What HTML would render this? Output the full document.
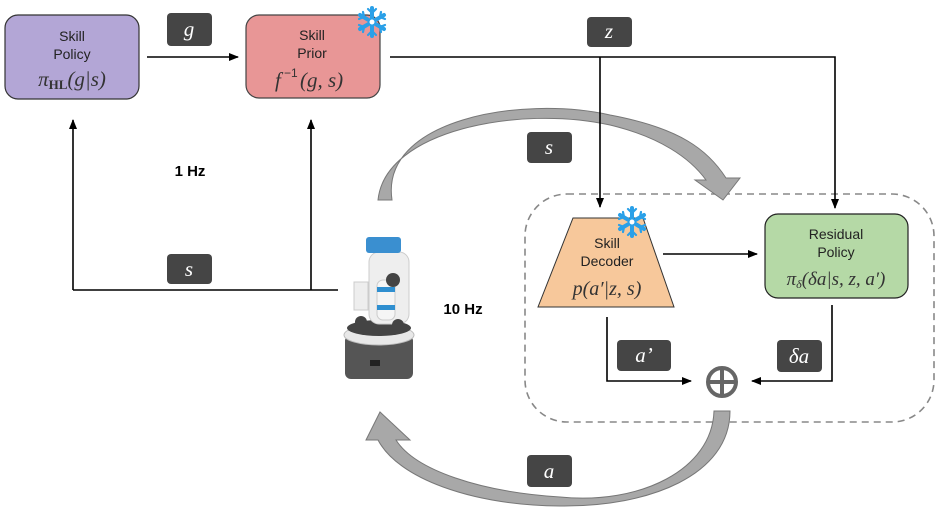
<!DOCTYPE html>
<html><head><meta charset="utf-8"><style>
html,body{margin:0;padding:0;background:#fff;width:939px;height:509px;overflow:hidden}
svg text{font-family:"Liberation Sans",sans-serif}
.m{font-family:"Liberation Serif",serif;font-style:italic}
</style></head><body>
<svg width="939" height="509" viewBox="0 0 939 509" xmlns="http://www.w3.org/2000/svg">
<defs>
<marker id="ah" markerWidth="10" markerHeight="8" refX="9" refY="4" orient="auto" markerUnits="userSpaceOnUse">
<path d="M0,0 L10,4 L0,8 z" fill="#000"/></marker>
<g id="snow">
<g stroke="#2aa0e8" stroke-width="4" stroke-linecap="round">
<line x1="0" y1="-14" x2="0" y2="14"/><line x1="-12" y1="-7" x2="12" y2="7"/><line x1="-12" y1="7" x2="12" y2="-7"/>
</g>
<g stroke="#2aa0e8" stroke-width="2.2" fill="none" stroke-linecap="round">
<polyline points="-4,-13 0,-9 4,-13"/><polyline points="-4,13 0,9 4,13"/>
<polyline points="-13,-3 -8,-5 -9,-10"/><polyline points="13,3 8,5 9,10"/>
<polyline points="-13,3 -8,5 -9,10"/><polyline points="13,-3 8,-5 9,-10"/>
</g>
<circle r="2.5" fill="#fff"/>
</g>
</defs>
<rect x="525" y="194" width="409" height="228" rx="42" fill="none" stroke="#888" stroke-width="1.6" stroke-dasharray="7,5"/>
<path d="M378,200 C385,130 520,105 610,125 C660,137 690,158 706,180 L695,180 L723,200 L740,178 L726,178 C708,150 680,128 610,115 C520,95 380,120 392,200 Z" fill="#a8a8a8" stroke="#777" stroke-width="1"/>
<path d="M714,411 C712,470 640,505 560,497 C480,492 415,470 396,440 L410,440 L380,412 L366,440 L378,440 C398,478 470,505 560,506 C650,507 730,475 730,411 Z" fill="#a8a8a8" stroke="#777" stroke-width="1"/>

<rect x="5" y="15" width="134" height="84" rx="13" fill="#b3a6d6" stroke="#333" stroke-width="1.2"/>
<text x="72" y="41" font-size="14" text-anchor="middle" fill="#222">Skill</text>
<text x="72" y="59" font-size="14" text-anchor="middle" fill="#222">Policy</text>
<text x="72" y="86" font-size="21" text-anchor="middle" class="m" fill="#333">π<tspan font-size="13" font-style="normal" font-weight="bold" dy="3">HL</tspan><tspan dy="-3">(g|s)</tspan></text>

<rect x="246" y="15" width="134" height="83" rx="13" fill="#e89696" stroke="#444" stroke-width="1.2"/>
<text x="312" y="40" font-size="14" text-anchor="middle" fill="#222">Skill</text>
<text x="312" y="58" font-size="14" text-anchor="middle" fill="#222">Prior</text>
<text x="275" y="87" font-size="21" class="m" fill="#333">f</text>
<text x="284" y="77" font-size="12" fill="#333">−1</text>
<text x="300" y="87" font-size="21" class="m" fill="#333">(g, s)</text>

<path d="M573,218 L643,218 L674,307 L538,307 Z" fill="#f7c89b" stroke="#333" stroke-width="1"/>
<text x="607" y="248" font-size="14" text-anchor="middle" fill="#222">Skill</text>
<text x="607" y="266" font-size="14" text-anchor="middle" fill="#222">Decoder</text>
<text x="607" y="295" font-size="20" text-anchor="middle" class="m" fill="#333">p(a′|z, s)</text>

<rect x="765" y="214" width="143" height="84" rx="13" fill="#b5d9a6" stroke="#222" stroke-width="1.2"/>
<text x="836" y="239" font-size="14" text-anchor="middle" fill="#222">Residual</text>
<text x="836" y="257" font-size="14" text-anchor="middle" fill="#222">Policy</text>
<text x="836" y="285" font-size="19" text-anchor="middle" class="m" fill="#333">π<tspan font-size="12" dy="3">δ</tspan><tspan dy="-3">(δa|s, z, a′)</tspan></text>

<use href="#snow" x="372" y="22"/>
<use href="#snow" x="632" y="222"/>

<g stroke="#000" stroke-width="1.6" fill="none">
<line x1="147" y1="57" x2="238" y2="57" marker-end="url(#ah)"/>
<polyline points="390,57 835,57 835,208" marker-end="url(#ah)"/>
<line x1="600" y1="57" x2="600" y2="207" marker-end="url(#ah)"/>
<polyline points="73,290 73,120" marker-end="url(#ah)"/>
<polyline points="311,290 311,120" marker-end="url(#ah)"/>
<line x1="73" y1="290" x2="338" y2="290"/>
<line x1="663" y1="254" x2="757" y2="254" marker-end="url(#ah)"/>
<polyline points="607,317 607,381 691,381" marker-end="url(#ah)"/>
<polyline points="832,305 832,381 752,381" marker-end="url(#ah)"/>
</g>
<circle cx="722" cy="382" r="14" fill="none" stroke="#666" stroke-width="4"/>
<line x1="722" y1="368" x2="722" y2="396" stroke="#666" stroke-width="4"/>
<line x1="708" y1="382" x2="736" y2="382" stroke="#666" stroke-width="4"/>

<g fill="#454545">
<rect x="167" y="13" width="45" height="33" rx="4"/>
<rect x="587" y="17" width="45" height="30" rx="4"/>
<rect x="527" y="132" width="45" height="31" rx="4"/>
<rect x="167" y="254" width="45" height="30" rx="4"/>
<rect x="617" y="340" width="54" height="31" rx="4"/>
<rect x="777" y="340" width="45" height="32" rx="4"/>
<rect x="527" y="455" width="45" height="32" rx="4"/>
</g>
<g fill="#fff" font-size="21" text-anchor="middle">
<text x="189" y="36" class="m">g</text>
<text x="609" y="38" class="m">z</text>
<text x="549" y="154" class="m">s</text>
<text x="189" y="276" class="m">s</text>
<text x="644" y="362" class="m">a’</text>
<text x="799" y="363" class="m">δa</text>
<text x="549" y="478" class="m">a</text>
</g>
<text x="190" y="176" font-size="15" font-weight="bold" text-anchor="middle">1 Hz</text>
<text x="463" y="314" font-size="15" font-weight="bold" text-anchor="middle">10 Hz</text>

<g>
<rect x="345" y="335" width="68" height="44" rx="6" fill="#555"/>
<ellipse cx="379" cy="335" rx="35" ry="10" fill="#e8e8e8" stroke="#bbb"/>
<ellipse cx="379" cy="328" rx="32" ry="8" fill="#444"/>
<rect x="369" y="252" width="40" height="72" rx="10" fill="#eee" stroke="#ccc"/>
<rect x="366" y="237" width="35" height="16" rx="3" fill="#3a8fd0"/>
<rect x="354" y="282" width="14" height="28" fill="#eee" stroke="#ccc"/>
<rect x="377" y="280" width="18" height="40" rx="6" fill="#f5f5f5" stroke="#ccc"/>
<rect x="377" y="287" width="18" height="5" fill="#2f8fd0"/>
<rect x="377" y="305" width="18" height="5" fill="#2f8fd0"/>
<circle cx="393" cy="280" r="7" fill="#444"/>
<circle cx="361" cy="322" r="6" fill="#444"/>
<circle cx="398" cy="325" r="6" fill="#444"/>
<rect x="370" y="360" width="10" height="6" fill="#222"/>
</g>
</svg>
</body></html>
